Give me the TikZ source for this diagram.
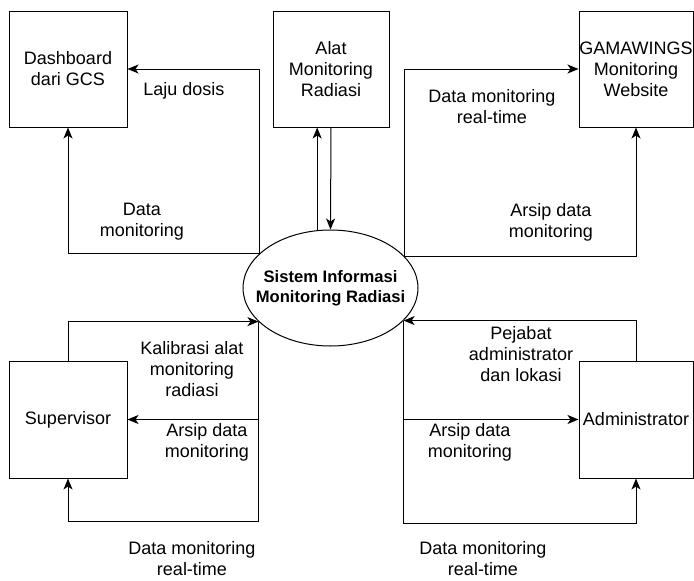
\documentclass[tikz,border=0pt]{standalone}
\usepackage{fontspec}
\setmainfont{Liberation Sans}
\usetikzlibrary{arrows.meta,shapes.geometric}
\begin{document}
\begin{tikzpicture}[x=1pt,y=-1pt,
  every node/.style={font=\fontsize{18}{21}\selectfont, inner sep=0pt, align=center},
  ent/.style={draw, line width=1pt, minimum height=116pt},
  proc/.style={draw, ellipse, line width=1pt, minimum width=175pt, minimum height=116pt},
  proctext/.style={font=\fontsize{16.6}{20}\selectfont\bfseries},
  flow/.style={line width=1pt, -{Stealth[length=11pt,width=9pt,inset=3pt]}},
  lbl/.style={}]
\useasboundingbox (0,0) rectangle (694,581);

% entities
\node[ent, minimum width=118pt] (dash) at (68,69) {Dashboard\\dari GCS};
\node[ent, minimum width=116pt] (alat) at (331,69) {Alat\\Monitoring\\Radiasi};
\node[ent, minimum width=114pt] (gama) at (636,69) {GAMAWINGS\\Monitoring\\Website};
\node[ent, minimum width=118pt, minimum height=117pt] (sup) at (68,419.5) {Supervisor};
\node[ent, minimum width=114pt, minimum height=117pt] (adm) at (636,419.5) {Administrator};

% process
\node[proc] (sim) at (330.5,288) {};
\node[proctext] (simtext) at (sim.center) {Sistem Informasi\\Monitoring Radiasi};

% flows: top-left
\draw[flow] (sim.154.3) |- (dash.east);
\draw[flow] (sim.154.3) -| (dash.south);
% flows: alat
\draw[flow] (sim.103.3) -- (sim.103.3 |- alat.south);
\draw[flow] (alat.south) -- (sim.north);
% flows: top-right
\draw[flow] (sim.23.2) |- (gama.west);
\draw[flow] (sim.23.2) -| (gama.south);
% flows: supervisor
\draw[flow] (sup.north) |- (sim.205.7);
\draw[flow] (sim.205.7) |- (sup.east);
\draw[flow] (sim.205.7) -- ++(0,200) -| (sup.south);
% flows: administrator
\draw[flow] (adm.north) |- (sim.336.8);
\draw[flow] (sim.336.8) |- (adm.west);
\draw[flow] (sim.336.8) -- ++(0,202.5) -| (adm.south);

% labels
\node[lbl] (l1) at (184,91) {Laju dosis};
\node[lbl] (l2) at (142,222) {Data\\monitoring};
\node[lbl] (l3) at (492,106.5) {Data monitoring\\real-time};
\node[lbl] (l4) at (551,222) {Arsip data\\monitoring};
\node[lbl] (l5) at (192,369) {Kalibrasi alat\\monitoring\\radiasi};
\node[lbl] (l6) at (207,442.5) {Arsip data\\monitoring};
\node[lbl] (l7) at (192,558.5) {Data monitoring\\real-time};
\node[lbl] (l8) at (521,354) {Pejabat\\administrator\\dan lokasi};
\node[lbl] (l9) at (470,442.5) {Arsip data\\monitoring};
\node[lbl] (l10) at (483,558.5) {Data monitoring\\real-time};
\end{tikzpicture}
\end{document}
